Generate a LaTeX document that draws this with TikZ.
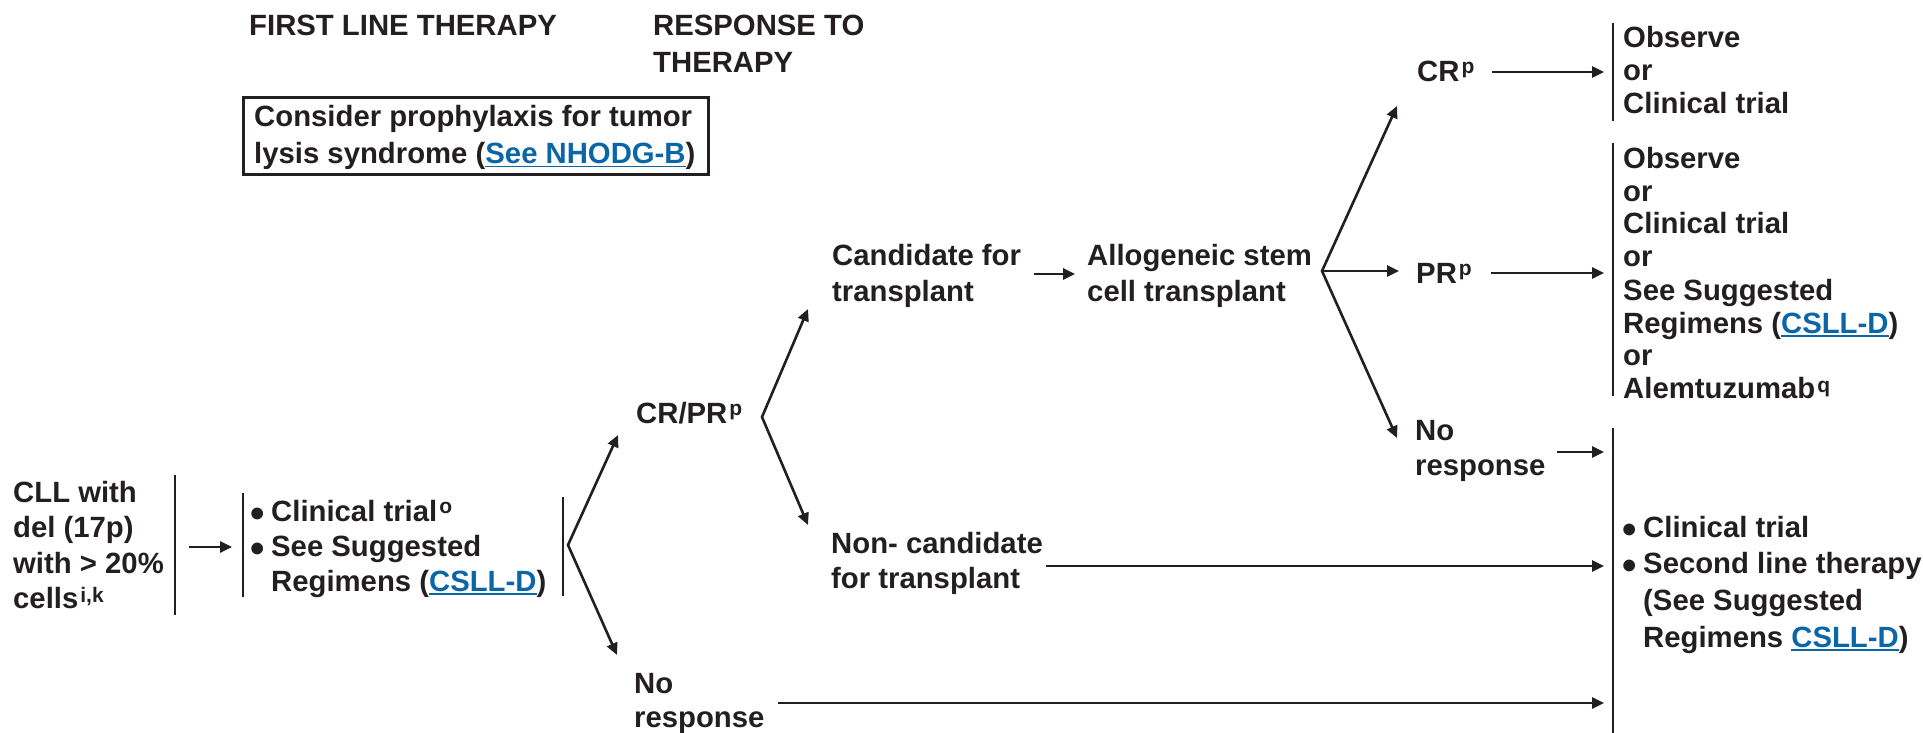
\documentclass[tikz,border=0pt]{standalone}
\usepackage{fontspec}
\setmainfont{Liberation Sans}
\usetikzlibrary{arrows.meta}

\definecolor{ink}{HTML}{231F20}
\definecolor{linkblue}{HTML}{0B66A8}

% underlined cross-reference
\newsavebox\lnkbox
\newcommand\lnk[1]{\sbox\lnkbox{\color{linkblue}#1}\textcolor{linkblue}{\rlap{\rule[-3.5pt]{\wd\lnkbox}{1.8pt}}}\usebox\lnkbox}
% footnote marker
\newcommand\sups[2][8pt]{\hspace{2pt}\raisebox{#1}{\fontsize{21}{21}\selectfont #2}}
% hanging bullet
\newcommand\bul{\llap{\smash{\raisebox{-6pt}{\scalebox{1.4}{\textbullet}}}\hspace{6pt}}}
% block of left-aligned lines with a fixed line pitch; baseline = first line
\newcommand\tb[2]{\vtop{\baselineskip=#1\relax\lineskiplimit=-1000pt\lineskip=0pt\halign{##\hfil\cr#2\crcr}}}

\tikzset{
  txt/.style={anchor=base west, inner sep=0pt, text=ink,
              font=\fontsize{29.3}{36}\selectfont\bfseries},
  ln/.style={draw=ink, line width=2.6pt},
  arr/.style={ln, -{Triangle[length=12pt,width=11pt]}},
  fork/.style={ln, {Triangle[length=12pt,width=11pt]}-{Triangle[length=12pt,width=11pt]}},
}

\begin{document}
\begin{tikzpicture}[x=1pt,y=-1pt]
\useasboundingbox (0,0) rectangle (1923,733);

% column headings
\node[txt] (hfirst) at (249,36) {FIRST LINE THERAPY};
\node[txt] (hresp)  at (653,36) {\tb{37pt}{RESPONSE TO\cr THERAPY}};

% tumor lysis note
\node[draw=ink, line width=2.6pt, anchor=north west, inner sep=0pt,
      minimum width=465pt, minimum height=77pt] (tlsbox) at (242,96) {};
\node[txt] (tls) at (254,127) {\tb{37pt}{Consider prophylaxis for tumor\cr lysis syndrome (\lnk{See NHODG-B})}};

% diagnosis
\node[txt] (cll) at (13,502) {\tb{35.5pt}{CLL with\cr del (17p)\cr with > 20\%\cr cells\sups[6pt]{i,k}}};
\coordinate (b1t) at (175,475); \coordinate (b1b) at (175,615);
\draw[ln] (b1t) -- (b1b);
\coordinate (a1s) at (189,547); \coordinate (a1e) at (232,547);
\draw[arr] (a1s) -- (a1e);

% first line therapy
\coordinate (b2t) at (243,493); \coordinate (b2b) at (243,597);
\draw[ln] (b2t) -- (b2b);
\node[txt] (first) at (271,521) {\tb{35pt}{\bul Clinical trial\sups{o}\cr \bul See Suggested\cr Regimens (\lnk{CSLL-D})}};
\coordinate (b3t) at (563,497); \coordinate (b3b) at (563,596);
\draw[ln] (b3t) -- (b3b);

% response to first line
\coordinate (f1) at (568,545);
\coordinate (f1u) at (618,435);
\coordinate (f1d) at (617,655);
\draw[fork] (f1u) -- (f1) -- (f1d);

\node[txt] (crpr) at (636,423) {CR/PR\sups{p}};
\node[txt] (noresp1) at (634,693) {\tb{34pt}{No\cr response}};

% transplant decision
\coordinate (f2) at (762,417);
\coordinate (f2u) at (808,309);
\coordinate (f2d) at (808,525);
\draw[fork] (f2u) -- (f2) -- (f2d);

\node[txt] (cand) at (832,265) {\tb{36pt}{Candidate for\cr transplant}};
\node[txt] (noncand) at (831,553) {\tb{35pt}{Non- candidate\cr for transplant}};
\coordinate (a2s) at (1034,274); \coordinate (a2e) at (1075,274);
\draw[arr] (a2s) -- (a2e);
\node[txt] (allo) at (1087,265) {\tb{36pt}{Allogeneic stem\cr cell transplant}};

% response to transplant
\coordinate (f3) at (1322,271);
\coordinate (f3u) at (1397,106);
\coordinate (f3m) at (1399,271);
\coordinate (f3d) at (1397,438);
\draw[fork] (f3u) -- (f3) -- (f3d);
\draw[arr] (f3) -- (f3m);

\node[txt] (cr) at (1417,82) {CR\sups{p}};
\node[txt] (pr) at (1416,283) {PR\sups{p}};
\node[txt] (noresp2) at (1415,440) {\tb{35pt}{No\cr response}};

% targets
\coordinate (b4t) at (1613,23);  \coordinate (b4b) at (1613,121);
\coordinate (b5t) at (1613,143); \coordinate (b5b) at (1613,396);
\coordinate (b6t) at (1613,428); \coordinate (b6b) at (1613,733);
\draw[ln] (b4t) -- (b4b);
\draw[ln] (b5t) -- (b5b);
\draw[ln] (b6t) -- (b6b);

\coordinate (a3s) at (1492,72);  \coordinate (a3e) at (1604,72);
\coordinate (a4s) at (1491,273); \coordinate (a4e) at (1604,273);
\coordinate (a5s) at (1557,452); \coordinate (a5e) at (1604,452);
\coordinate (a6s) at (1046,566); \coordinate (a6e) at (1604,566);
\coordinate (a7s) at (778,703);  \coordinate (a7e) at (1604,703);
\draw[arr] (a3s) -- (a3e);
\draw[arr] (a4s) -- (a4e);
\draw[arr] (a5s) -- (a5e);
\draw[arr] (a6s) -- (a6e);
\draw[arr] (a7s) -- (a7e);

\node[txt] (obs1) at (1623,48) {\tb{33pt}{Observe\cr or\cr Clinical trial}};
\node[txt] (obs2) at (1623,168) {\tb{33pt}{Observe\cr or\cr Clinical trial\cr or\cr See Suggested\cr Regimens (\lnk{CSLL-D})\cr or\cr Alemtuzumab\sups[6pt]{q}}};
\node[txt] (second) at (1643,537) {\tb{36.7pt}{\bul Clinical trial\cr \bul Second line therapy\cr (See Suggested\cr Regimens \lnk{CSLL-D})}};
\end{tikzpicture}
\end{document}
